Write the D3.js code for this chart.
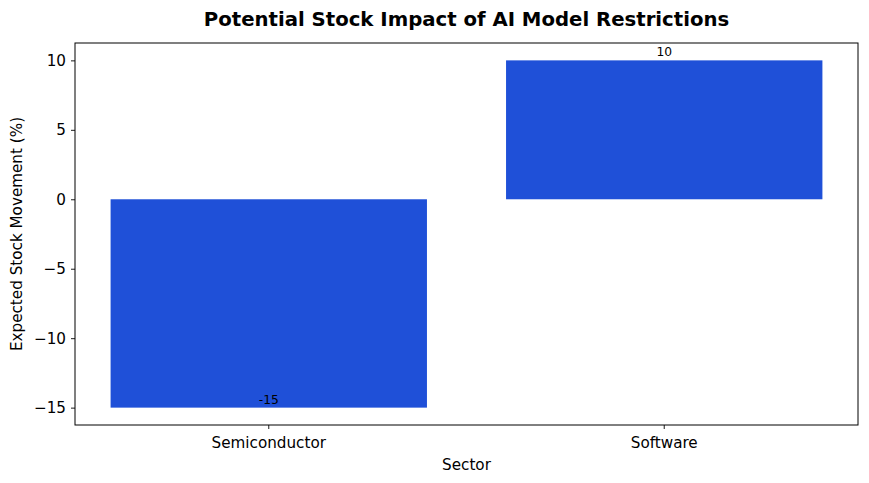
<!DOCTYPE html>
<html><head><meta charset="utf-8">
<script src="https://cdn.jsdelivr.net/npm/d3@7"></script>
<style>body{margin:0;background:#fff}svg{display:block}text{font-family:"DejaVu Sans",sans-serif}</style>
</head><body>
<script>
const categories = ["Semiconductor", "Software"];
const values = [-15, 10];
const yTicks = [-15, -10, -5, 0, 5, 10];
const title = "Potential Stock Impact of AI Model Restrictions";
const xLabel = "Sector";
const yLabel = "Expected Stock Movement (%)";
const barColor = "#1f50d8";

const W = 869, H = 483;
const m = {left: 75, right: 11, top: 43, bottom: 58};
const svg = d3.select("body").append("svg").attr("width", W).attr("height", H);

const x = d3.scaleBand().domain(categories).range([m.left, W - m.right]).paddingInner(0.2).paddingOuter(0.09);
const y = d3.scaleLinear().domain([-16.25, 11.25]).range([H - m.bottom, m.top]);

svg.selectAll("rect.bar").data(values).join("rect").attr("class", "bar")
  .attr("x", (d, i) => x(categories[i]))
  .attr("width", x.bandwidth())
  .attr("y", d => y(Math.max(0, d)))
  .attr("height", d => Math.abs(y(d) - y(0)))
  .attr("fill", barColor);

svg.selectAll("text.lbl").data(values).join("text").attr("class", "lbl")
  .attr("x", (d, i) => x(categories[i]) + x.bandwidth() / 2)
  .attr("y", d => y(d) - 4)
  .attr("text-anchor", "middle").attr("font-size", 12.3).attr("fill", "#000")
  .text(d => d);

const yAxis = svg.append("g").attr("transform", `translate(${m.left},0)`)
  .call(d3.axisLeft(y).tickValues(yTicks).tickSize(4).tickPadding(5).tickFormat(d => d < 0 ? "\u2212" + Math.abs(d) : d));
const xAxis = svg.append("g").attr("transform", `translate(0,${H - m.bottom})`)
  .call(d3.axisBottom(x).tickSize(4).tickPadding(8));
[yAxis, xAxis].forEach(g => {
  g.select(".domain").remove();
  g.selectAll("text").attr("font-size", 15.2).attr("fill", "#000").attr("font-family", "DejaVu Sans");
  g.selectAll("line").attr("stroke", "#000").attr("stroke-width", 0.9);
});

svg.append("rect").attr("x", m.left).attr("y", m.top)
  .attr("width", W - m.left - m.right).attr("height", H - m.top - m.bottom)
  .attr("fill", "none").attr("stroke", "#000").attr("stroke-width", 1);

svg.append("text").attr("x", (m.left + W - m.right) / 2).attr("y", 26)
  .attr("text-anchor", "middle").attr("font-size", 19.7).attr("font-weight", "bold").text(title);
svg.append("text").attr("x", (m.left + W - m.right) / 2).attr("y", 470)
  .attr("text-anchor", "middle").attr("font-size", 15.2).text(xLabel);
svg.append("text").attr("transform", `translate(22,${(m.top + H - m.bottom) / 2}) rotate(-90)`)
  .attr("text-anchor", "middle").attr("font-size", 15.2).text(yLabel);
</script>
</body></html>
